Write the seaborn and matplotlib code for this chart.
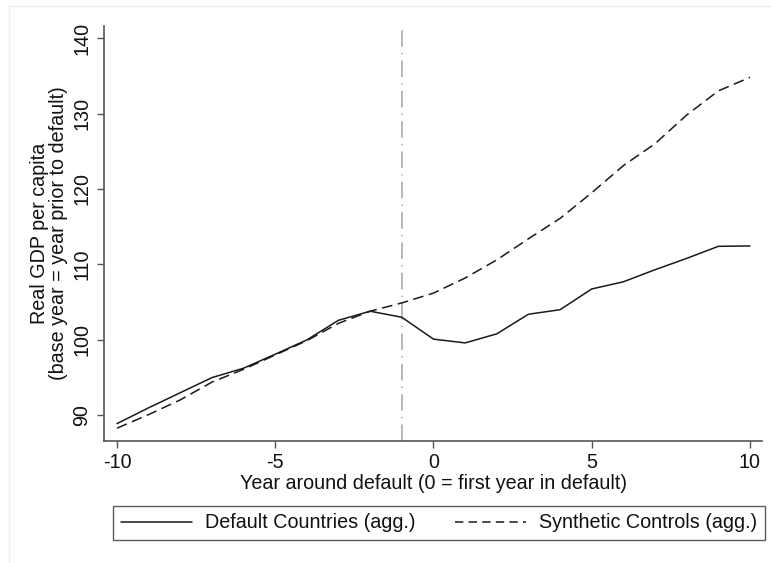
import matplotlib
matplotlib.use("Agg")
import matplotlib.pyplot as plt
import seaborn as sns
import pandas as pd
from matplotlib.lines import Line2D
from matplotlib.patches import Rectangle

# Years relative to the default event
years = list(range(-10, 11))

# Aggregate real GDP per capita (index, year before default = base)
default_countries = [88.9, 91.0, 93.0, 95.0, 96.25, 98.1, 100.0, 102.6, 103.8, 103.0,
                     100.1, 99.6, 100.8, 103.4, 104.0, 106.75, 107.7, 109.3, 110.8, 112.4, 112.45]
synthetic_controls = [88.3, 90.1, 92.05, 94.4, 96.1, 98.0, 99.9, 102.2, 103.8, 104.9,
                      106.2, 108.2, 110.6, 113.4, 116.1, 119.5, 123.1, 126.0, 129.8, 133.0, 134.8]

series_names = ["Default Countries (agg.)", "Synthetic Controls (agg.)"]
x_ticks = [-10, -5, 0, 5, 10]
y_ticks = [90, 100, 110, 120, 130, 140]
default_year_marker = -1

df = pd.DataFrame({
    "year": years * 2,
    "gdp": default_countries + synthetic_controls,
    "series": [series_names[0]] * len(years) + [series_names[1]] * len(years),
})

sns.set_theme(style="white")
plt.rcParams["font.family"] = ["Liberation Sans", "DejaVu Sans"]
FS = 14.2

fig = plt.figure(figsize=(7.71, 5.63), dpi=100)
fig.patch.set_facecolor("white")
ax = fig.add_axes([104 / 771, 1 - 441 / 563, (762 - 104) / 771, (441 - 26) / 563])

# Faint outer graph-region frame
fig.add_artist(Rectangle((9 / 771, -0.05), 1.0, 1 - 6 / 563 + 0.05, transform=fig.transFigure,
                         fill=False, edgecolor="#eeeeee", linewidth=1.0))

ax.axvline(default_year_marker, color="#b8b8b8", linewidth=1.4,
           dashes=(8.5, 3.2, 0.7, 3.2), zorder=1)

sns.lineplot(data=df, x="year", y="gdp", hue="series", style="series",
             palette=["#1a1a1a", "#1a1a1a"],
             dashes={series_names[0]: "", series_names[1]: (7, 3.6)},
             linewidth=1.1, legend=False, ax=ax, zorder=3)

ax.set_xlim(-10.41, 10.38)
ax.set_ylim(86.6, 141.6)
ax.set_xticks(x_ticks)
ax.set_xticklabels([str(v) for v in x_ticks])
ax.set_yticks(y_ticks)
ax.set_yticklabels([str(v) for v in y_ticks], rotation=90, va="center")

for side in ["top", "right"]:
    ax.spines[side].set_visible(False)
for side in ["left", "bottom"]:
    ax.spines[side].set_color("#555555")
    ax.spines[side].set_linewidth(1.2)

ax.tick_params(axis="both", which="major", direction="out", length=5, width=1.0,
               color="#555555", labelsize=FS, labelcolor="#111111", pad=4,
               left=True, bottom=True)

ax.set_xlabel("Year around default (0 = first year in default)", fontsize=FS,
              color="#111111", labelpad=1)
ax.set_ylabel("Real GDP per capita\n(base year = year prior to default)", fontsize=FS,
              color="#111111", labelpad=3, linespacing=1.0)

handles = [
    Line2D([], [], color="#1a1a1a", linewidth=1.1),
    Line2D([], [], color="#1a1a1a", linewidth=1.1, dashes=(5.5, 3.4)),
]
leg = fig.legend(handles, series_names, loc="center", ncol=2, mode="expand",
                 bbox_to_anchor=(113 / 771, 1 - 541 / 563, (765 - 113) / 771, 36 / 563),
                 fontsize=FS, frameon=True, fancybox=False, handlelength=3.6,
                 handletextpad=0.65, borderpad=0.4, borderaxespad=0.0)
leg.get_frame().set_edgecolor("#333333")
leg.get_frame().set_linewidth(1.0)
for t in leg.get_texts():
    t.set_color("#111111")

fig.savefig("out.png", dpi=100, facecolor="white")
